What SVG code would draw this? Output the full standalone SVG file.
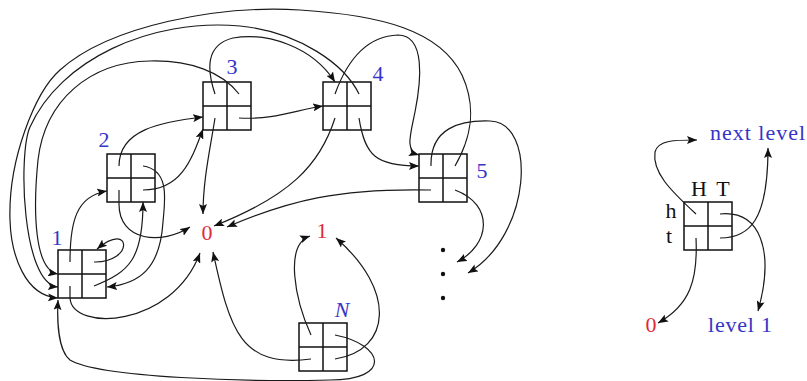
<svg xmlns="http://www.w3.org/2000/svg" width="807" height="381" viewBox="0 0 807 381">
  <style>
    .cell { fill: none; stroke: #111; stroke-width: 1.5; }
    .link { fill: none; stroke: #1a1a1a; stroke-width: 1.2; marker-end: url(#tip); }
    .lbl { font-family: "Liberation Serif", "DejaVu Serif", serif; font-size: 22px; }
    .blue { fill: #3535c8; }
    .red { fill: #e02a3a; }
    .blk { fill: #111; }
  </style>
  <defs>
    <marker id="tip" markerUnits="userSpaceOnUse" markerWidth="10" markerHeight="8" refX="10" refY="4" orient="auto">
      <path d="M0,0 L10,4 L0,8 L2,4 z" fill="#111"/>
    </marker>
    <!-- a node: 2x2 pointer cells -->
    <g id="cells">
      <rect class="cell" x="0" y="0" width="48" height="48"/>
      <line class="cell" x1="24" y1="0" x2="24" y2="48"/>
      <line class="cell" x1="0" y1="24" x2="48" y2="24"/>
    </g>
  </defs>
  <rect width="807" height="381" fill="#fff"/>

  <!-- nodes -->
  <g id="node-1">
    <use href="#cells" x="58" y="250"/>
    <text class="lbl blue" x="57" y="245" text-anchor="middle">1</text>
  </g>
  <g id="node-2">
    <use href="#cells" x="107" y="154"/>
    <text class="lbl blue" x="104" y="147" text-anchor="middle">2</text>
  </g>
  <g id="node-3">
    <use href="#cells" x="203" y="82"/>
    <text class="lbl blue" x="232" y="74" text-anchor="middle">3</text>
  </g>
  <g id="node-4">
    <use href="#cells" x="323" y="82"/>
    <text class="lbl blue" x="378" y="81" text-anchor="middle">4</text>
  </g>
  <g id="node-5">
    <use href="#cells" x="419" y="154"/>
    <text class="lbl blue" x="482" y="178" text-anchor="middle">5</text>
  </g>
  <g id="node-N">
    <use href="#cells" x="299" y="323"/>
    <text class="lbl blue" x="342" y="317" text-anchor="middle" font-style="italic">N</text>
  </g>
  <g id="zero">
    <text class="lbl red" x="207" y="240" text-anchor="middle">0</text>
  </g>
  <g id="one">
    <text class="lbl red" x="322" y="238" text-anchor="middle">1</text>
  </g>
  <g id="ellipsis">
    <circle cx="443" cy="250" r="2.2" fill="#111"/>
    <circle cx="443" cy="274" r="2.2" fill="#111"/>
    <circle cx="443" cy="298" r="2.2" fill="#111"/>
  </g>

  <!-- legend -->
  <g id="legend-node">
    <use href="#cells" x="684" y="202"/>
    <text class="lbl blk" x="699" y="196" text-anchor="middle">H</text>
    <text class="lbl blk" x="723" y="196" text-anchor="middle">T</text>
    <text class="lbl blk" x="671" y="218" text-anchor="middle">h</text>
    <text class="lbl blk" x="669" y="243" text-anchor="middle">t</text>
  </g>
  <g id="legend-next">
    <text class="lbl blue" x="710" y="140" textLength="95">next level</text>
  </g>
  <g id="legend-level1">
    <text class="lbl blue" x="708" y="332" textLength="64">level 1</text>
  </g>
  <g id="legend-zero">
    <text class="lbl red" x="651" y="332" text-anchor="middle">0</text>
  </g>

  <!-- connectors -->
  <g id="connectors">
    <!-- node 1 -->
    <path class="link" d="M70,262 C70,222 76,196 107,191"/>
    <path class="link" d="M94,262 C134,263 132,220 97,249"/>
    <path class="link" d="M94,286 C130,272 143,258 143,202"/>
    <path class="link" d="M70,286 V298 C72,332 172,328 200,253"/>
    <!-- node 2 -->
    <path class="link" d="M119,166 C119,130 160,122 203,117"/>
    <path class="link" d="M143,190 C180,190 191,162 203,129"/>
    <path class="link" d="M119,190 V204 C119,242 162,245 190,227"/>
    <path class="link" d="M143,166 C170,170 165,200 163,222 C160,268 140,284 107,287"/>
    <!-- node 3 -->
    <path class="link" d="M215,94 C207,70 205,45 233,38 C266,32 312,46 335,82"/>
    <path class="link" d="M239,118 C275,120 295,110 323,106"/>
    <path class="link" d="M215,118 C210,150 203,180 203,214"/>
    <path class="link" d="M239,94 C222,72 190,60 150,61 C90,62 45,100 38,160 C33,210 34,270 58,274"/>
    <!-- node 4 -->
    <path class="link" d="M335,94 C348,58 368,36 398,35 C426,35 421,82 415,112 C410,136 405,151 419,155"/>
    <path class="link" d="M359,118 C365,156 376,166 419,166"/>
    <path class="link" d="M335,118 C320,165 290,196 214,226"/>
    <path class="link" d="M359,94 C345,65 300,32 240,26 C150,18 60,60 30,127 C18,154 22,284 58,287"/>
    <!-- node 5 -->
    <path class="link" d="M455,166 C470,140 478,110 462,75 C440,30 380,15 300,10 C220,5 110,25 60,70 C35,92 8,160 10,220 C11,255 25,296 58,298"/>
    <path class="link" d="M431,190 C340,188 290,200 227,227"/>
    <path class="link" d="M431,166 C430,128 460,120 490,121 C537,122 532,235 468,273"/>
    <path class="link" d="M455,190 C495,205 490,245 457,262"/>
    <!-- node N -->
    <path class="link" d="M311,335 C295,300 284,245 310,236"/>
    <path class="link" d="M335,359 C392,350 396,290 336,238"/>
    <path class="link" d="M311,359 C240,368 230,330 213,252"/>
    <path class="link" d="M335,335 C385,345 392,380 330,380 C250,382 100,378 70,360 C58,350 57,320 58,300"/>
    <!-- legend -->
    <path class="link" d="M696,214 C670,190 652,172 655,152 C658,140 675,140 697,140"/>
    <path class="link" d="M720,238 C750,238 768,220 768,148"/>
    <path class="link" d="M720,214 C760,210 775,250 758,311"/>
    <path class="link" d="M696,238 C698,280 690,305 658,323"/>
  </g>
</svg>
